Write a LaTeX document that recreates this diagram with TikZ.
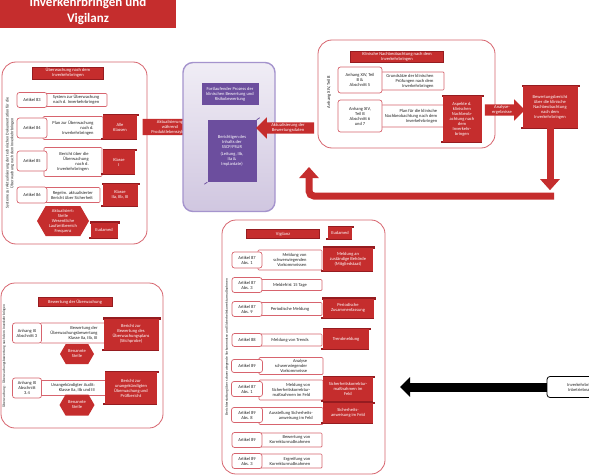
\documentclass[tikz,border=0pt]{standalone}
\usepackage{fontspec}
\setmainfont{Carlito}
\usetikzlibrary{shapes.arrows,shapes.symbols,arrows.meta}
\definecolor{rd}{RGB}{197,45,45}
\definecolor{rdd}{RGB}{150,28,32}
\definecolor{pk}{RGB}{215,100,110}
\definecolor{pl}{RGB}{108,78,158}
\definecolor{plb}{RGB}{165,148,205}
\definecolor{gtx}{RGB}{35,35,35}
\newcommand\tinyfs{\fontsize{4.5}{5.0}\selectfont}
\begin{document}
\begin{tikzpicture}[x=1pt,y=-1pt,
  every node/.style={inner sep=1pt, align=center, font=\tinyfs},
  frame/.style={draw=pk, line width=0.8pt, rounded corners=14pt},
  lbl/.style={draw=pk, line width=0.7pt, rounded corners=2.5pt, fill=white, text=gtx},
  desc/.style={draw=pk, line width=0.7pt, rounded corners=1pt, fill=white, text=gtx, align=right},
  hdr/.style={fill=rd, draw=rdd, line width=0.3pt, text=white},
  scroll/.style={fill=rd, text=white, append after command={\pgfextra{
     \fill[rdd] ([yshift=-1.2pt]\tikzlastnode.north west) rectangle ([xshift=1.8pt,yshift=1.2pt]\tikzlastnode.north east);
     \fill[rdd] ([xshift=-1.8pt,yshift=-1.2pt]\tikzlastnode.south west) rectangle ([yshift=1.2pt]\tikzlastnode.south east);}}},
  hexa/.style={signal, signal to=east and west, signal pointer angle=120, fill=rd, text=white},
  redarrow/.style={single arrow, single arrow head extend=5pt, fill=rd, text=white, minimum height=#1},
  vtext/.style={rotate=90, text=gtx},
  pbox/.style={rounded corners=10pt, draw=plb, line width=1.4pt, top color=pl!10, bottom color=pl!32},
  pinner/.style={fill=pl, text=white},
  bigred/.style={draw=rd, line width=7pt, -{Triangle[width=19pt,length=11pt]}}
]
\clip (0,0) rectangle (589,476);
\fill[white] (0,0) rectangle (589,476);

% title banner
\fill[rd] (0,-40) rectangle (176,28);
\node[font=\fontsize{13}{16}\selectfont\bfseries, text=white] (title) at (88,2)
  {Überwachung nach dem\\Inverkehrbringen und\\Vigilanz};

% ---------------- post-market surveillance (left) ----------------
\draw[frame] (2,62) rectangle (147,244);
\node[vtext, font=\fontsize{4.1}{4.7}\selectfont] (vt1) at (10,153) {Systeme zur Aktualisierung der technischen Dokumentation für die\\Überwachung nach dem Inverkehrbringen};
\node[hdr, minimum width=71pt, minimum height=12pt] (h1) at (68,73) {Überwachung nach dem\\Inverkehrbringen};

\node[desc, minimum width=62pt, minimum height=13pt] (d83) at (76,100) {System zur Überwachung\\nach d. Inverkehrbringen};
\node[lbl, minimum width=30pt, minimum height=15pt] (a83) at (32,100) {Artikel 83};

\node[desc, minimum width=60pt, minimum height=23pt] (d84) at (73,128) {Plan zur Überwachung\\nach d.\\Inverkehrbringen};
\node[lbl, minimum width=30pt, minimum height=20pt] (a84) at (32,128) {Artikel 84};
\node[scroll, minimum width=34pt, minimum height=24pt] (k84) at (120,127) {Alle\\Klassen};

\node[desc, minimum width=58pt, minimum height=29pt] (d85) at (73,162) {Bericht über die\\Überwachung\\nach d.\\Inverkehrbringen};
\node[lbl, minimum width=30pt, minimum height=20pt] (a85) at (32,161) {Artikel 85};
\node[scroll, minimum width=32pt, minimum height=24pt] (k85) at (119,162) {Klasse\\I};

\node[desc, minimum width=56pt, minimum height=15pt] (d86) at (72,195) {Regelm. aktualisierter\\Bericht über Sicherheit};
\node[lbl, minimum width=30pt, minimum height=16pt] (a86) at (32,195) {Artikel 86};
\node[scroll, minimum width=35pt, minimum height=22pt] (k86) at (120,195) {Klasse\\IIa, IIb, III};

\node[hexa, minimum width=52pt, minimum height=30pt] (hx1) at (63,221) {Aktualisiert:\\Stelle\\Wesentliche\\Laufzeitbereich\\Frequenz};
\node[scroll, minimum width=27pt, minimum height=15pt] (eu1) at (104,230) {Eudamed};

\node[redarrow=63pt] (ar1) at (170,127) {Aktualisierung\\während\\Produktlebenszyklus};

% ---------------- clinical evaluation (centre) ----------------
\node[pbox, minimum width=92pt, minimum height=149pt] (pb) at (229,137) {};
\node[pinner, minimum width=57pt, minimum height=22pt] (ph) at (230,94) {Fortlaufender Prozess der\\klinischen Bewertung und\\Risikobewertung};
\node[pinner, minimum width=49pt, minimum height=62pt] (ps) at (232,151) {Berichtigen des\\Inhalts der\\SSCP/PSUR\\[1.5pt](Leitung, IIb,\\IIa \&\\Implantate)};
\draw[pl, line width=0.8pt] (ps.north east) -- ++(3,-2);
\draw[pl, line width=0.8pt] (ps.south west) -- ++(-3,2);

\node[redarrow=58pt, shape border rotate=180] (ar2) at (288,128) {Aktualisierung der\\Bewertungsdaten};

% ---------------- PMCF (top right) ----------------
\draw[frame] (318,40) rectangle (495,148);
\node[hdr, minimum width=93pt, minimum height=11pt] (h2) at (397,57) {Klinische Nachbeobachtung nach dem\\Inverkehrbringen};
\node[vtext] (vt2) at (329,92) {Anhang XIV, Teil B};

\node[desc, minimum width=68pt, minimum height=18pt] (dp1) at (410,81) {Grundsätze der klinischen\\Prüfungen nach dem\\Inverkehrbringen};
\node[lbl, minimum width=44pt, minimum height=26pt] (ap1) at (360,80) {Anhang XIV, Teil\\B \&\\Abschnitt 5};

\node[desc, minimum width=72pt, minimum height=22pt] (dp2) at (411,116) {Plan für die klinische\\Nachbeobachtung nach dem\\Inverkehrbringen};
\node[lbl, minimum width=44pt, minimum height=32pt] (ap2) at (360,116) {Anhang XIV,\\Teil B\\Abschnitt 6\\und 7};

\node[scroll, minimum width=39pt, minimum height=46pt] (sp) at (462,119) {Aspekte d.\\klinischen\\Nachbeob-\\achtung nach\\dem\\Inverkehr-\\bringen};
\node[redarrow=40pt] (ar3) at (502,110) {Analyse-\\ergebnisse};
\node[scroll, minimum width=55pt, minimum height=42pt] (bb) at (550,107) {Bewertungsbericht\\über die klinische\\Nachbeobachtung\\nach dem\\Inverkehrbringen};

% return path towards the clinical evaluation
\draw[bigred] (bb.south) -- ++(0,62);
\coordinate (ur) at (554,196);
\coordinate (ut) at (309,167);
\draw[bigred, rounded corners=5pt] (ur) -- (309,196) -- (ut);

% ---------------- surveillance assessment (bottom left) ----------------
\draw[frame] (1,283) rectangle (163,428);
\node[vtext, font=\fontsize{3.6}{4.2}\selectfont] (vt3) at (4,356) {Überwachung -- Überwachungsbewertung nach dem Inverkehrbringen};
\node[hdr, minimum width=74pt, minimum height=9pt] (h3) at (75,302) {Bewertung der Überwachung};

\node[desc, minimum width=68pt, minimum height=20pt] (db1) at (74,333) {Bewertung der\\Überwachungsbewertung\\Klasse IIa, IIb, III};
\node[lbl, minimum width=29pt, minimum height=20pt] (ab1) at (27,333) {Anhang IX\\Abschnitt 3};
\node[hexa, minimum width=34pt, minimum height=20pt] (hb1) at (77,354) {Benannte\\Stelle};
\node[scroll, minimum width=55pt, minimum height=31pt] (sb1) at (131,334) {Bericht zur\\Bewertung des\\Überwachungsplans\\(Stichprobe)};

\node[desc, minimum width=66pt, minimum height=15pt] (db2) at (73,388) {Unangekündigter Audit:\\Klasse IIa, IIb und III};
\node[lbl, minimum width=29pt, minimum height=20pt] (ab2) at (27,388) {Anhang IX\\Abschnitt\\3.4};
\node[hexa, minimum width=35pt, minimum height=21pt] (hb2) at (77,405) {Benannte\\Stelle};
\node[scroll, minimum width=52pt, minimum height=32pt] (sb2) at (131,388) {Bericht zur\\unangekündigten\\Überwachung und\\Prüfbericht};

% ---------------- vigilance (bottom centre) ----------------
\draw[frame] (222,220) rectangle (385,474);
\node[vtext, font=\fontsize{3.6}{4.2}\selectfont] (vt4) at (227,347) {Berichterstattung über schwerwiegende Vorkommnisse und Sicherheitskorrekturmaßnahmen};
\node[hdr, minimum width=73pt, minimum height=9pt] (h4) at (283,234) {Vigilanz};
\node[scroll, minimum width=24pt, minimum height=12pt] (eu2) at (340,233) {Eudamed};

\node[desc, minimum width=64pt, minimum height=20pt] (v1d) at (290,260) {Meldung von\\schwerwiegenden\\Vorkommnissen};
\node[lbl, minimum width=30pt, minimum height=16pt] (v1a) at (247,260) {Artikel 87\\Abs. 1};
\node[scroll, minimum width=50pt, minimum height=23pt] (v1s) at (348,259) {Meldung an\\zuständige Behörde\\(Mitgliedstaat)};

\node[desc, minimum width=64pt, minimum height=11pt] (v2d) at (290,285) {Meldefrist 15 Tage};
\node[lbl, minimum width=30pt, minimum height=15pt] (v2a) at (247,285) {Artikel 87\\Abs. 3};

\node[desc, minimum width=64pt, minimum height=13pt] (v3d) at (290,309) {Periodische Meldung};
\node[lbl, minimum width=30pt, minimum height=15pt] (v3a) at (247,309) {Artikel 87\\Abs. 9};
\node[scroll, minimum width=51pt, minimum height=19pt] (v3s) at (348,308) {Periodische\\Zusammenfassung};

\node[desc, minimum width=64pt, minimum height=12pt] (v4d) at (290,340) {Meldung von Trends};
\node[lbl, minimum width=30pt, minimum height=13pt] (v4a) at (247,340) {Artikel 88};
\node[scroll, minimum width=46pt, minimum height=20pt] (v4s) at (346,339) {Trendmeldung};

\node[desc, minimum width=64pt, minimum height=17pt] (v5d) at (291,366) {Analyse\\schwerwiegender\\Vorkommnisse};
\node[lbl, minimum width=31pt, minimum height=13pt] (v5a) at (247,366) {Artikel 89};

\node[desc, minimum width=64pt, minimum height=20pt] (v6d) at (291,390) {Meldung von\\Sicherheitskorrektur-\\maßnahmen im Feld};
\node[lbl, minimum width=31pt, minimum height=15pt] (v6a) at (247,389) {Artikel 87\\Abs. 1};
\node[scroll, minimum width=50pt, minimum height=24pt] (v6s) at (348,389) {Sicherheitskorrektur-\\maßnahmen im\\Feld};

\node[desc, minimum width=64pt, minimum height=17pt] (v7d) at (291,416) {Ausstellung Sicherheits-\\anweisung im Feld};
\node[lbl, minimum width=31pt, minimum height=15pt] (v7a) at (247,415) {Artikel 89\\Abs. 8};
\node[scroll, minimum width=50pt, minimum height=20pt] (v7s) at (348,413) {Sicherheits-\\anweisung im Feld};

\node[desc, minimum width=64pt, minimum height=14pt] (v8d) at (290,440) {Bewertung von\\Korrekturmaßnahmen};
\node[lbl, minimum width=30pt, minimum height=15pt] (v8a) at (247,440) {Artikel 89};

\node[desc, minimum width=64pt, minimum height=14pt] (v9d) at (290,461) {Ergreifung von\\Korrekturmaßnahmen};
\node[lbl, minimum width=30pt, minimum height=15pt] (v9a) at (247,461) {Artikel 89\\Abs. 3};

% ---------------- placing on the market (right) ----------------
\node[draw=black, line width=0.8pt, rounded corners=3pt, fill=white, text=gtx, minimum width=72pt, minimum height=21pt] (ib) at (583,387) {Inverkehrbringen\\Inbetriebnahme};
\coordinate (ibt) at (400,387);
\draw[line width=9pt, -{Triangle[width=19pt,length=10pt]}] (ib.west) -- (ibt);
\end{tikzpicture}
\end{document}
